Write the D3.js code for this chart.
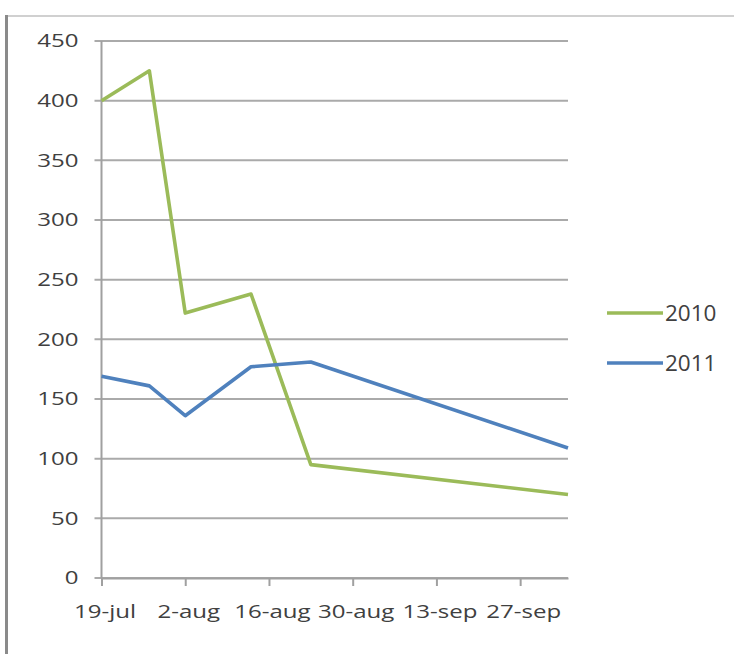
<!DOCTYPE html>
<html>
<head>
<meta charset="utf-8">
<script src="https://cdn.jsdelivr.net/npm/d3@7"></script>
<style>
  html, body { margin: 0; padding: 0; background: #fff; }
  svg { display: block; }
  text { font-family: "Open Sans", Lato, sans-serif; fill: #404040; }
</style>
</head>
<body>
<svg id="chart" width="734" height="654"></svg>
<script>
// Observation dates (day-month) shared by both seasons
const dates = ["19-jul", "27-jul", "2-aug", "13-aug", "23-aug", "5-oct"];
const values2010 = [400, 425, 222, 238, 95, 70];
const values2011 = [169, 161, 136, 177, 181, 109];
const seriesNames = ["2010", "2011"];
const seriesColors = ["#9bbb59", "#4f81bd"];
const xTickLabels = ["19-jul", "2-aug", "16-aug", "30-aug", "13-sep", "27-sep"];
const yTicks = [0, 50, 100, 150, 200, 250, 300, 350, 400, 450];

const parse = d3.timeParse("%d-%b");
const fmtMonth = d3.timeFormat("%b");
const fmtLabel = d => d.getDate() + "-" + fmtMonth(d).toLowerCase();

// axis labels are drawn in a wide, stretched face
const STRETCH = 1.3;
function stretchText(sel) {
  sel.each(function () {
    const t = d3.select(this);
    const x0 = +t.attr("x") || 0;
    t.attr("x", x0 / STRETCH).attr("transform", `scale(${STRETCH},1)`);
  });
}

const svg = d3.select("#chart");

// frame around the chart object
svg.append("line").attr("x1", 5).attr("x2", 734).attr("y1", 16).attr("y2", 16)
  .attr("stroke", "#d0d0d0").attr("stroke-width", 2);
svg.append("line").attr("x1", 6.5).attr("x2", 6.5).attr("y1", 15).attr("y2", 654)
  .attr("stroke", "#8a8a8a").attr("stroke-width", 3);

const plot = { left: 101.5, right: 568, top: 41, bottom: 578 };

const x = d3.scaleTime()
  .domain([parse(dates[0]), parse(dates[dates.length - 1])])
  .range([plot.left, plot.right]);
const y = d3.scaleLinear().domain([0, 450]).range([plot.bottom, plot.top]);

// horizontal gridlines
svg.append("g").selectAll("line").data(yTicks).join("line")
  .attr("x1", plot.left - 7).attr("x2", plot.right)
  .attr("y1", d => y(d)).attr("y2", d => y(d))
  .attr("stroke", "#aaaaaa").attr("stroke-width", 2);

// y axis labels
const yAxis = svg.append("g").attr("transform", `translate(${plot.left},0)`)
  .call(d3.axisLeft(y).tickValues(yTicks).tickSize(0).tickPadding(23));
yAxis.select(".domain").remove();
yAxis.selectAll("text").style("font-size", "18.5px").attr("fill", "#404040")
  .call(stretchText);

// y axis line
svg.append("line").attr("x1", plot.left).attr("x2", plot.left)
  .attr("y1", plot.top).attr("y2", plot.bottom)
  .attr("stroke", "#a0a0a0").attr("stroke-width", 2);

// x axis
const xAxis = svg.append("g").attr("transform", `translate(0,${plot.bottom})`)
  .call(d3.axisBottom(x).tickValues(xTickLabels.map(parse))
    .tickFormat(fmtLabel).tickSizeInner(8).tickSizeOuter(0).tickPadding(19));
xAxis.select(".domain").attr("stroke", "#a0a0a0").attr("stroke-width", 2);
xAxis.selectAll(".tick line").attr("stroke", "#a0a0a0").attr("stroke-width", 2);
xAxis.selectAll("text").style("font-size", "18.5px").attr("fill", "#404040")
  .attr("x", 3).call(stretchText);

// series lines
const series = [values2010, values2011].map((vals, i) => ({
  name: seriesNames[i],
  color: seriesColors[i],
  points: vals.map((v, j) => ({ date: parse(dates[j]), value: v }))
}));

const line = d3.line().x(d => x(d.date)).y(d => y(d.value));

svg.append("g").selectAll("path").data(series).join("path")
  .attr("d", d => line(d.points))
  .attr("fill", "none")
  .attr("stroke", d => d.color)
  .attr("stroke-width", 3.6)
  .attr("stroke-linejoin", "round");

// legend
const legend = svg.append("g").selectAll("g").data(series).join("g")
  .attr("transform", (d, i) => `translate(607,${313 + i * 50})`);
legend.append("line").attr("x1", 0).attr("x2", 56).attr("y1", 0).attr("y2", 0)
  .attr("stroke", d => d.color).attr("stroke-width", 3.6);
legend.append("text").attr("x", 58).attr("y", 0).attr("dy", "0.36em")
  .style("font-size", "22.5px").text(d => d.name);
</script>
</body>
</html>
